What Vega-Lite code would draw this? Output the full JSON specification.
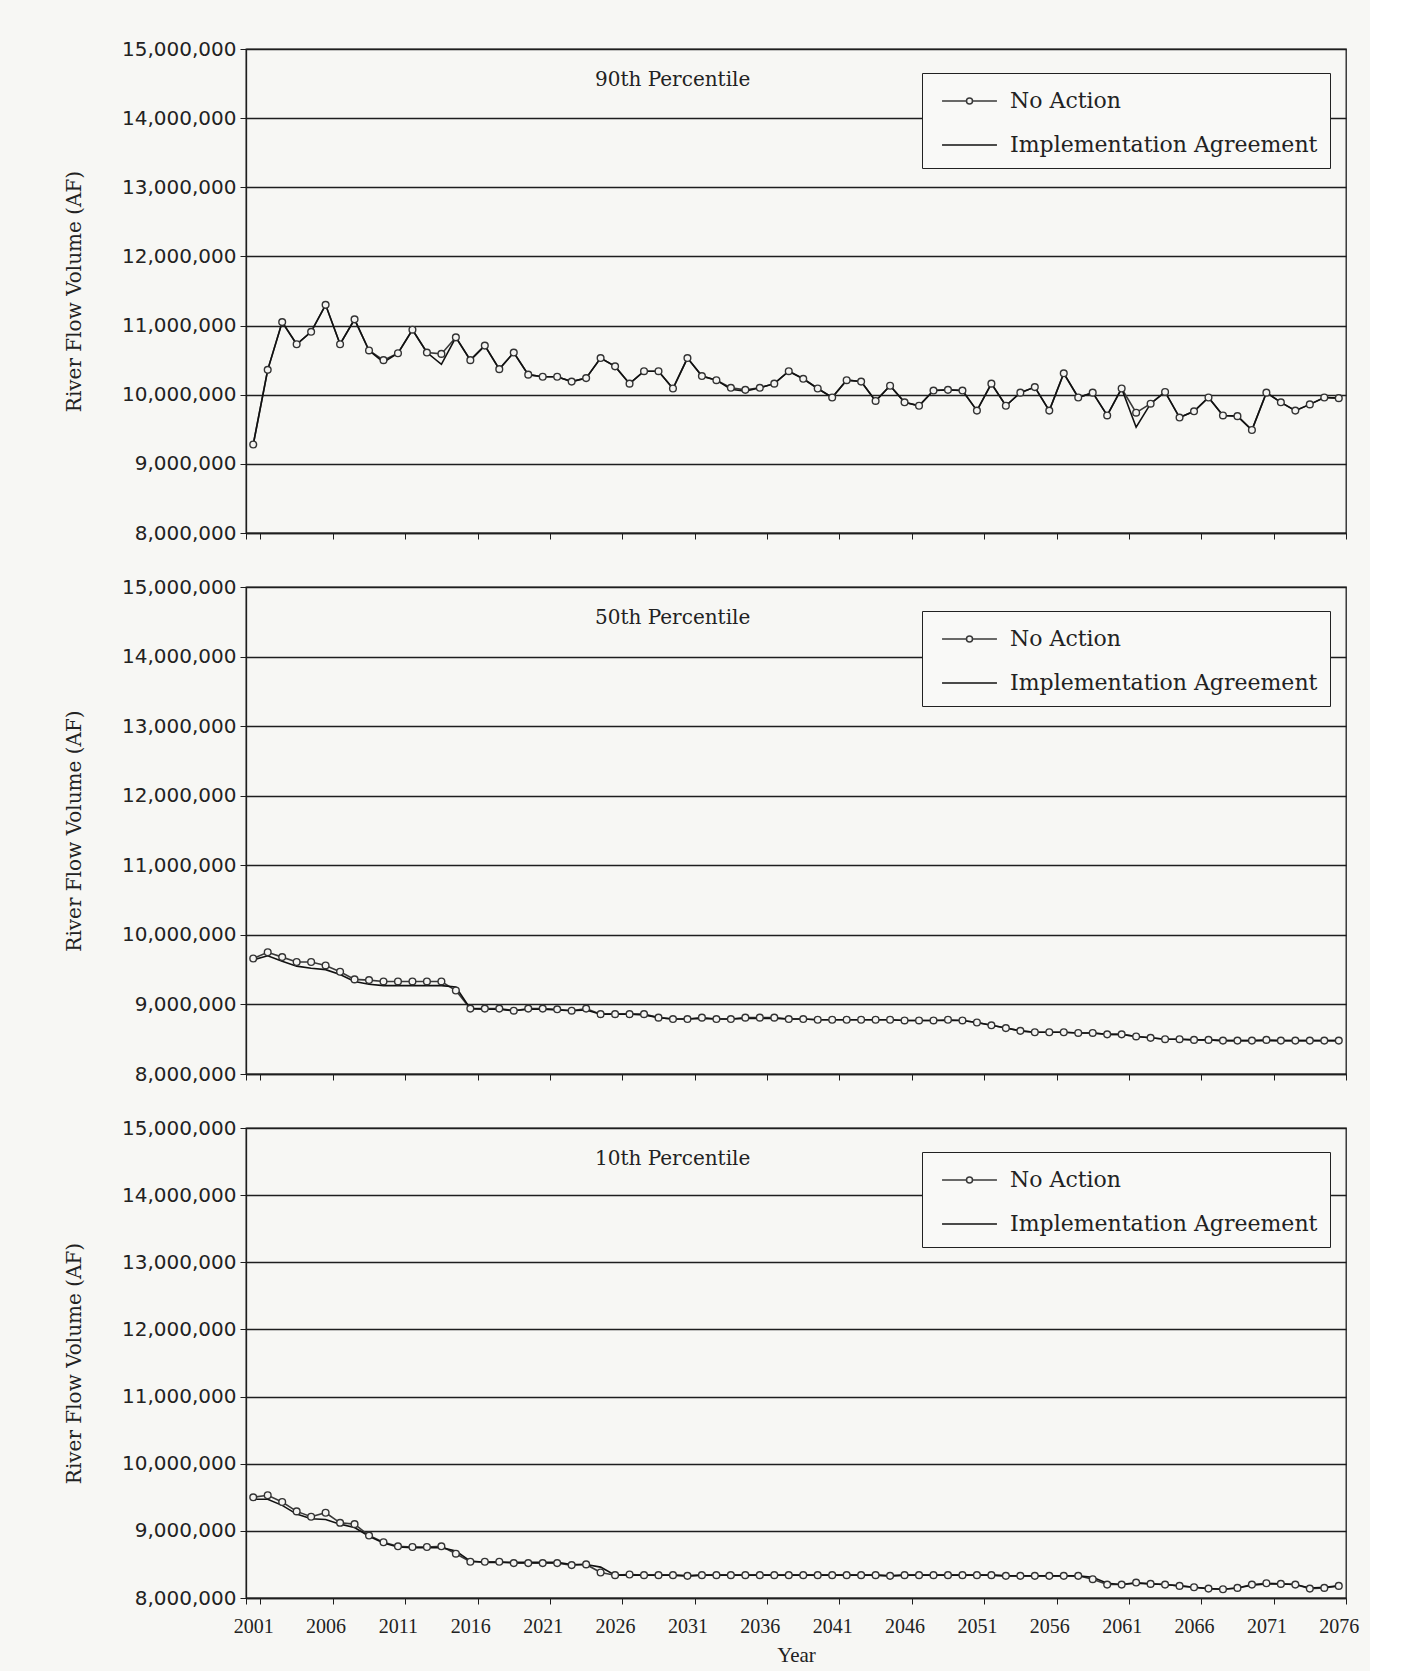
{
"$schema": "https://vega.github.io/schema/vega-lite/v6.json",
"background": "#f7f7f4",
"padding": {"left": 63, "top": 38, "right": 10, "bottom": 5},
"bounds": "flush",
"spacing": 54,
"resolve": {"scale": {"color": "independent"}, "legend": {"color": "independent"}},
"config": {
  "view": {"stroke": "#1e1e1e", "strokeWidth": 1.3},
  "title": {"font": "DejaVu Serif", "fontSize": 20, "fontWeight": "normal", "color": "#222", "anchor": "start", "frame": "group", "dx": 349, "offset": -51, "baseline": "alphabetic"},
  "axisY": {"grid": true, "gridColor": "#1e1e1e", "gridWidth": 1.4, "gridOpacity": 1, "domainColor": "#1e1e1e", "domainWidth": 1.3, "tickColor": "#1e1e1e", "tickSize": 6, "labelFont": "DejaVu Sans", "labelFontSize": 20, "labelColor": "#222", "labelPadding": 4, "labelOverlap": false, "labelFlush": false, "titleFont": "DejaVu Serif", "titleFontSize": 20, "titleFontWeight": "normal", "titleColor": "#222", "titlePadding": 37},
  "axisX": {"domainColor": "#1e1e1e", "domainWidth": 1.3, "tickColor": "#1e1e1e", "tickSize": 6, "tickBand": "extent", "labelFont": "Liberation Serif", "labelFontSize": 20, "labelColor": "#222", "labelPadding": 12, "labelAngle": 0, "labelOverlap": false, "titleFont": "Liberation Serif", "titleFontSize": 21, "titleFontWeight": "normal", "titleColor": "#222", "titlePadding": 8, "grid": false},
  "legend": {"title": null, "orient": "none", "legendX": 676, "legendY": 24, "strokeColor": "#222", "fillColor": "#f9f9f7", "padding": 12, "rowPadding": 17, "labelFont": "DejaVu Serif", "labelFontSize": 22, "labelColor": "#222", "labelOffset": 44, "labelLimit": 0, "symbolSize": 900, "symbolStrokeWidth": 1.5, "symbolStrokeColor": "#222", "symbolFillColor": "#f4f4f2", "symbolType": "M-1,0L1,0"}
},
"datasets": {"flow": [
{"p":"90th","year":2001,"No Action":9280000,"Implementation Agreement":9280000},
{"p":"90th","year":2002,"No Action":10360000,"Implementation Agreement":10360000},
{"p":"90th","year":2003,"No Action":11050000,"Implementation Agreement":11050000},
{"p":"90th","year":2004,"No Action":10730000,"Implementation Agreement":10730000},
{"p":"90th","year":2005,"No Action":10910000,"Implementation Agreement":10910000},
{"p":"90th","year":2006,"No Action":11300000,"Implementation Agreement":11300000},
{"p":"90th","year":2007,"No Action":10730000,"Implementation Agreement":10730000},
{"p":"90th","year":2008,"No Action":11090000,"Implementation Agreement":11090000},
{"p":"90th","year":2009,"No Action":10640000,"Implementation Agreement":10640000},
{"p":"90th","year":2010,"No Action":10500000,"Implementation Agreement":10470000},
{"p":"90th","year":2011,"No Action":10600000,"Implementation Agreement":10600000},
{"p":"90th","year":2012,"No Action":10940000,"Implementation Agreement":10940000},
{"p":"90th","year":2013,"No Action":10610000,"Implementation Agreement":10610000},
{"p":"90th","year":2014,"No Action":10590000,"Implementation Agreement":10440000},
{"p":"90th","year":2015,"No Action":10830000,"Implementation Agreement":10830000},
{"p":"90th","year":2016,"No Action":10500000,"Implementation Agreement":10500000},
{"p":"90th","year":2017,"No Action":10710000,"Implementation Agreement":10710000},
{"p":"90th","year":2018,"No Action":10370000,"Implementation Agreement":10370000},
{"p":"90th","year":2019,"No Action":10610000,"Implementation Agreement":10610000},
{"p":"90th","year":2020,"No Action":10290000,"Implementation Agreement":10290000},
{"p":"90th","year":2021,"No Action":10260000,"Implementation Agreement":10260000},
{"p":"90th","year":2022,"No Action":10260000,"Implementation Agreement":10260000},
{"p":"90th","year":2023,"No Action":10190000,"Implementation Agreement":10190000},
{"p":"90th","year":2024,"No Action":10240000,"Implementation Agreement":10240000},
{"p":"90th","year":2025,"No Action":10530000,"Implementation Agreement":10530000},
{"p":"90th","year":2026,"No Action":10410000,"Implementation Agreement":10410000},
{"p":"90th","year":2027,"No Action":10160000,"Implementation Agreement":10160000},
{"p":"90th","year":2028,"No Action":10340000,"Implementation Agreement":10340000},
{"p":"90th","year":2029,"No Action":10340000,"Implementation Agreement":10340000},
{"p":"90th","year":2030,"No Action":10090000,"Implementation Agreement":10090000},
{"p":"90th","year":2031,"No Action":10530000,"Implementation Agreement":10530000},
{"p":"90th","year":2032,"No Action":10270000,"Implementation Agreement":10270000},
{"p":"90th","year":2033,"No Action":10210000,"Implementation Agreement":10210000},
{"p":"90th","year":2034,"No Action":10100000,"Implementation Agreement":10080000},
{"p":"90th","year":2035,"No Action":10070000,"Implementation Agreement":10050000},
{"p":"90th","year":2036,"No Action":10100000,"Implementation Agreement":10100000},
{"p":"90th","year":2037,"No Action":10160000,"Implementation Agreement":10160000},
{"p":"90th","year":2038,"No Action":10340000,"Implementation Agreement":10340000},
{"p":"90th","year":2039,"No Action":10230000,"Implementation Agreement":10230000},
{"p":"90th","year":2040,"No Action":10090000,"Implementation Agreement":10090000},
{"p":"90th","year":2041,"No Action":9960000,"Implementation Agreement":9960000},
{"p":"90th","year":2042,"No Action":10210000,"Implementation Agreement":10210000},
{"p":"90th","year":2043,"No Action":10190000,"Implementation Agreement":10190000},
{"p":"90th","year":2044,"No Action":9910000,"Implementation Agreement":9910000},
{"p":"90th","year":2045,"No Action":10130000,"Implementation Agreement":10130000},
{"p":"90th","year":2046,"No Action":9890000,"Implementation Agreement":9890000},
{"p":"90th","year":2047,"No Action":9840000,"Implementation Agreement":9840000},
{"p":"90th","year":2048,"No Action":10060000,"Implementation Agreement":10060000},
{"p":"90th","year":2049,"No Action":10070000,"Implementation Agreement":10070000},
{"p":"90th","year":2050,"No Action":10060000,"Implementation Agreement":10060000},
{"p":"90th","year":2051,"No Action":9770000,"Implementation Agreement":9770000},
{"p":"90th","year":2052,"No Action":10160000,"Implementation Agreement":10160000},
{"p":"90th","year":2053,"No Action":9840000,"Implementation Agreement":9840000},
{"p":"90th","year":2054,"No Action":10030000,"Implementation Agreement":10030000},
{"p":"90th","year":2055,"No Action":10110000,"Implementation Agreement":10110000},
{"p":"90th","year":2056,"No Action":9770000,"Implementation Agreement":9770000},
{"p":"90th","year":2057,"No Action":10310000,"Implementation Agreement":10310000},
{"p":"90th","year":2058,"No Action":9960000,"Implementation Agreement":9960000},
{"p":"90th","year":2059,"No Action":10030000,"Implementation Agreement":10030000},
{"p":"90th","year":2060,"No Action":9700000,"Implementation Agreement":9700000},
{"p":"90th","year":2061,"No Action":10090000,"Implementation Agreement":10090000},
{"p":"90th","year":2062,"No Action":9740000,"Implementation Agreement":9530000},
{"p":"90th","year":2063,"No Action":9870000,"Implementation Agreement":9870000},
{"p":"90th","year":2064,"No Action":10040000,"Implementation Agreement":10040000},
{"p":"90th","year":2065,"No Action":9670000,"Implementation Agreement":9670000},
{"p":"90th","year":2066,"No Action":9760000,"Implementation Agreement":9760000},
{"p":"90th","year":2067,"No Action":9960000,"Implementation Agreement":9960000},
{"p":"90th","year":2068,"No Action":9700000,"Implementation Agreement":9700000},
{"p":"90th","year":2069,"No Action":9690000,"Implementation Agreement":9690000},
{"p":"90th","year":2070,"No Action":9490000,"Implementation Agreement":9490000},
{"p":"90th","year":2071,"No Action":10030000,"Implementation Agreement":10030000},
{"p":"90th","year":2072,"No Action":9890000,"Implementation Agreement":9890000},
{"p":"90th","year":2073,"No Action":9770000,"Implementation Agreement":9770000},
{"p":"90th","year":2074,"No Action":9860000,"Implementation Agreement":9860000},
{"p":"90th","year":2075,"No Action":9960000,"Implementation Agreement":9960000},
{"p":"90th","year":2076,"No Action":9950000,"Implementation Agreement":9950000},
{"p":"50th","year":2001,"No Action":9660000,"Implementation Agreement":9640000},
{"p":"50th","year":2002,"No Action":9750000,"Implementation Agreement":9700000},
{"p":"50th","year":2003,"No Action":9680000,"Implementation Agreement":9620000},
{"p":"50th","year":2004,"No Action":9610000,"Implementation Agreement":9550000},
{"p":"50th","year":2005,"No Action":9610000,"Implementation Agreement":9520000},
{"p":"50th","year":2006,"No Action":9560000,"Implementation Agreement":9500000},
{"p":"50th","year":2007,"No Action":9470000,"Implementation Agreement":9430000},
{"p":"50th","year":2008,"No Action":9360000,"Implementation Agreement":9330000},
{"p":"50th","year":2009,"No Action":9350000,"Implementation Agreement":9290000},
{"p":"50th","year":2010,"No Action":9330000,"Implementation Agreement":9270000},
{"p":"50th","year":2011,"No Action":9330000,"Implementation Agreement":9270000},
{"p":"50th","year":2012,"No Action":9330000,"Implementation Agreement":9270000},
{"p":"50th","year":2013,"No Action":9330000,"Implementation Agreement":9270000},
{"p":"50th","year":2014,"No Action":9330000,"Implementation Agreement":9270000},
{"p":"50th","year":2015,"No Action":9200000,"Implementation Agreement":9250000},
{"p":"50th","year":2016,"No Action":8940000,"Implementation Agreement":8940000},
{"p":"50th","year":2017,"No Action":8940000,"Implementation Agreement":8930000},
{"p":"50th","year":2018,"No Action":8940000,"Implementation Agreement":8930000},
{"p":"50th","year":2019,"No Action":8910000,"Implementation Agreement":8910000},
{"p":"50th","year":2020,"No Action":8940000,"Implementation Agreement":8930000},
{"p":"50th","year":2021,"No Action":8940000,"Implementation Agreement":8930000},
{"p":"50th","year":2022,"No Action":8930000,"Implementation Agreement":8920000},
{"p":"50th","year":2023,"No Action":8910000,"Implementation Agreement":8910000},
{"p":"50th","year":2024,"No Action":8940000,"Implementation Agreement":8920000},
{"p":"50th","year":2025,"No Action":8860000,"Implementation Agreement":8860000},
{"p":"50th","year":2026,"No Action":8860000,"Implementation Agreement":8860000},
{"p":"50th","year":2027,"No Action":8860000,"Implementation Agreement":8860000},
{"p":"50th","year":2028,"No Action":8860000,"Implementation Agreement":8850000},
{"p":"50th","year":2029,"No Action":8810000,"Implementation Agreement":8810000},
{"p":"50th","year":2030,"No Action":8790000,"Implementation Agreement":8790000},
{"p":"50th","year":2031,"No Action":8790000,"Implementation Agreement":8790000},
{"p":"50th","year":2032,"No Action":8810000,"Implementation Agreement":8800000},
{"p":"50th","year":2033,"No Action":8790000,"Implementation Agreement":8790000},
{"p":"50th","year":2034,"No Action":8790000,"Implementation Agreement":8790000},
{"p":"50th","year":2035,"No Action":8810000,"Implementation Agreement":8800000},
{"p":"50th","year":2036,"No Action":8810000,"Implementation Agreement":8800000},
{"p":"50th","year":2037,"No Action":8810000,"Implementation Agreement":8800000},
{"p":"50th","year":2038,"No Action":8790000,"Implementation Agreement":8790000},
{"p":"50th","year":2039,"No Action":8790000,"Implementation Agreement":8790000},
{"p":"50th","year":2040,"No Action":8780000,"Implementation Agreement":8780000},
{"p":"50th","year":2041,"No Action":8780000,"Implementation Agreement":8780000},
{"p":"50th","year":2042,"No Action":8780000,"Implementation Agreement":8780000},
{"p":"50th","year":2043,"No Action":8780000,"Implementation Agreement":8780000},
{"p":"50th","year":2044,"No Action":8780000,"Implementation Agreement":8780000},
{"p":"50th","year":2045,"No Action":8780000,"Implementation Agreement":8780000},
{"p":"50th","year":2046,"No Action":8770000,"Implementation Agreement":8770000},
{"p":"50th","year":2047,"No Action":8770000,"Implementation Agreement":8770000},
{"p":"50th","year":2048,"No Action":8770000,"Implementation Agreement":8770000},
{"p":"50th","year":2049,"No Action":8780000,"Implementation Agreement":8770000},
{"p":"50th","year":2050,"No Action":8770000,"Implementation Agreement":8770000},
{"p":"50th","year":2051,"No Action":8740000,"Implementation Agreement":8740000},
{"p":"50th","year":2052,"No Action":8700000,"Implementation Agreement":8700000},
{"p":"50th","year":2053,"No Action":8660000,"Implementation Agreement":8660000},
{"p":"50th","year":2054,"No Action":8620000,"Implementation Agreement":8620000},
{"p":"50th","year":2055,"No Action":8600000,"Implementation Agreement":8600000},
{"p":"50th","year":2056,"No Action":8600000,"Implementation Agreement":8600000},
{"p":"50th","year":2057,"No Action":8600000,"Implementation Agreement":8600000},
{"p":"50th","year":2058,"No Action":8590000,"Implementation Agreement":8590000},
{"p":"50th","year":2059,"No Action":8590000,"Implementation Agreement":8590000},
{"p":"50th","year":2060,"No Action":8570000,"Implementation Agreement":8570000},
{"p":"50th","year":2061,"No Action":8570000,"Implementation Agreement":8570000},
{"p":"50th","year":2062,"No Action":8540000,"Implementation Agreement":8540000},
{"p":"50th","year":2063,"No Action":8520000,"Implementation Agreement":8520000},
{"p":"50th","year":2064,"No Action":8500000,"Implementation Agreement":8500000},
{"p":"50th","year":2065,"No Action":8500000,"Implementation Agreement":8500000},
{"p":"50th","year":2066,"No Action":8490000,"Implementation Agreement":8490000},
{"p":"50th","year":2067,"No Action":8490000,"Implementation Agreement":8490000},
{"p":"50th","year":2068,"No Action":8480000,"Implementation Agreement":8480000},
{"p":"50th","year":2069,"No Action":8480000,"Implementation Agreement":8480000},
{"p":"50th","year":2070,"No Action":8480000,"Implementation Agreement":8480000},
{"p":"50th","year":2071,"No Action":8490000,"Implementation Agreement":8480000},
{"p":"50th","year":2072,"No Action":8480000,"Implementation Agreement":8480000},
{"p":"50th","year":2073,"No Action":8480000,"Implementation Agreement":8480000},
{"p":"50th","year":2074,"No Action":8480000,"Implementation Agreement":8480000},
{"p":"50th","year":2075,"No Action":8480000,"Implementation Agreement":8480000},
{"p":"50th","year":2076,"No Action":8480000,"Implementation Agreement":8480000},
{"p":"10th","year":2001,"No Action":9500000,"Implementation Agreement":9470000},
{"p":"10th","year":2002,"No Action":9530000,"Implementation Agreement":9470000},
{"p":"10th","year":2003,"No Action":9430000,"Implementation Agreement":9380000},
{"p":"10th","year":2004,"No Action":9290000,"Implementation Agreement":9250000},
{"p":"10th","year":2005,"No Action":9210000,"Implementation Agreement":9180000},
{"p":"10th","year":2006,"No Action":9270000,"Implementation Agreement":9170000},
{"p":"10th","year":2007,"No Action":9120000,"Implementation Agreement":9100000},
{"p":"10th","year":2008,"No Action":9100000,"Implementation Agreement":9050000},
{"p":"10th","year":2009,"No Action":8930000,"Implementation Agreement":8920000},
{"p":"10th","year":2010,"No Action":8830000,"Implementation Agreement":8820000},
{"p":"10th","year":2011,"No Action":8770000,"Implementation Agreement":8760000},
{"p":"10th","year":2012,"No Action":8760000,"Implementation Agreement":8750000},
{"p":"10th","year":2013,"No Action":8760000,"Implementation Agreement":8750000},
{"p":"10th","year":2014,"No Action":8770000,"Implementation Agreement":8750000},
{"p":"10th","year":2015,"No Action":8660000,"Implementation Agreement":8700000},
{"p":"10th","year":2016,"No Action":8540000,"Implementation Agreement":8550000},
{"p":"10th","year":2017,"No Action":8540000,"Implementation Agreement":8530000},
{"p":"10th","year":2018,"No Action":8540000,"Implementation Agreement":8530000},
{"p":"10th","year":2019,"No Action":8520000,"Implementation Agreement":8530000},
{"p":"10th","year":2020,"No Action":8520000,"Implementation Agreement":8530000},
{"p":"10th","year":2021,"No Action":8520000,"Implementation Agreement":8530000},
{"p":"10th","year":2022,"No Action":8520000,"Implementation Agreement":8530000},
{"p":"10th","year":2023,"No Action":8490000,"Implementation Agreement":8500000},
{"p":"10th","year":2024,"No Action":8500000,"Implementation Agreement":8500000},
{"p":"10th","year":2025,"No Action":8380000,"Implementation Agreement":8460000},
{"p":"10th","year":2026,"No Action":8340000,"Implementation Agreement":8340000},
{"p":"10th","year":2027,"No Action":8350000,"Implementation Agreement":8340000},
{"p":"10th","year":2028,"No Action":8340000,"Implementation Agreement":8340000},
{"p":"10th","year":2029,"No Action":8340000,"Implementation Agreement":8340000},
{"p":"10th","year":2030,"No Action":8340000,"Implementation Agreement":8340000},
{"p":"10th","year":2031,"No Action":8330000,"Implementation Agreement":8330000},
{"p":"10th","year":2032,"No Action":8340000,"Implementation Agreement":8340000},
{"p":"10th","year":2033,"No Action":8340000,"Implementation Agreement":8340000},
{"p":"10th","year":2034,"No Action":8340000,"Implementation Agreement":8340000},
{"p":"10th","year":2035,"No Action":8340000,"Implementation Agreement":8340000},
{"p":"10th","year":2036,"No Action":8340000,"Implementation Agreement":8340000},
{"p":"10th","year":2037,"No Action":8340000,"Implementation Agreement":8340000},
{"p":"10th","year":2038,"No Action":8340000,"Implementation Agreement":8340000},
{"p":"10th","year":2039,"No Action":8340000,"Implementation Agreement":8340000},
{"p":"10th","year":2040,"No Action":8340000,"Implementation Agreement":8340000},
{"p":"10th","year":2041,"No Action":8340000,"Implementation Agreement":8340000},
{"p":"10th","year":2042,"No Action":8340000,"Implementation Agreement":8340000},
{"p":"10th","year":2043,"No Action":8340000,"Implementation Agreement":8340000},
{"p":"10th","year":2044,"No Action":8340000,"Implementation Agreement":8340000},
{"p":"10th","year":2045,"No Action":8330000,"Implementation Agreement":8330000},
{"p":"10th","year":2046,"No Action":8340000,"Implementation Agreement":8340000},
{"p":"10th","year":2047,"No Action":8340000,"Implementation Agreement":8340000},
{"p":"10th","year":2048,"No Action":8340000,"Implementation Agreement":8340000},
{"p":"10th","year":2049,"No Action":8340000,"Implementation Agreement":8340000},
{"p":"10th","year":2050,"No Action":8340000,"Implementation Agreement":8340000},
{"p":"10th","year":2051,"No Action":8340000,"Implementation Agreement":8340000},
{"p":"10th","year":2052,"No Action":8340000,"Implementation Agreement":8340000},
{"p":"10th","year":2053,"No Action":8330000,"Implementation Agreement":8330000},
{"p":"10th","year":2054,"No Action":8330000,"Implementation Agreement":8330000},
{"p":"10th","year":2055,"No Action":8330000,"Implementation Agreement":8330000},
{"p":"10th","year":2056,"No Action":8330000,"Implementation Agreement":8330000},
{"p":"10th","year":2057,"No Action":8330000,"Implementation Agreement":8330000},
{"p":"10th","year":2058,"No Action":8330000,"Implementation Agreement":8330000},
{"p":"10th","year":2059,"No Action":8280000,"Implementation Agreement":8310000},
{"p":"10th","year":2060,"No Action":8200000,"Implementation Agreement":8220000},
{"p":"10th","year":2061,"No Action":8200000,"Implementation Agreement":8200000},
{"p":"10th","year":2062,"No Action":8230000,"Implementation Agreement":8220000},
{"p":"10th","year":2063,"No Action":8210000,"Implementation Agreement":8210000},
{"p":"10th","year":2064,"No Action":8200000,"Implementation Agreement":8200000},
{"p":"10th","year":2065,"No Action":8180000,"Implementation Agreement":8180000},
{"p":"10th","year":2066,"No Action":8160000,"Implementation Agreement":8160000},
{"p":"10th","year":2067,"No Action":8140000,"Implementation Agreement":8140000},
{"p":"10th","year":2068,"No Action":8130000,"Implementation Agreement":8130000},
{"p":"10th","year":2069,"No Action":8150000,"Implementation Agreement":8150000},
{"p":"10th","year":2070,"No Action":8200000,"Implementation Agreement":8190000},
{"p":"10th","year":2071,"No Action":8220000,"Implementation Agreement":8210000},
{"p":"10th","year":2072,"No Action":8210000,"Implementation Agreement":8210000},
{"p":"10th","year":2073,"No Action":8200000,"Implementation Agreement":8200000},
{"p":"10th","year":2074,"No Action":8140000,"Implementation Agreement":8150000},
{"p":"10th","year":2075,"No Action":8150000,"Implementation Agreement":8160000},
{"p":"10th","year":2076,"No Action":8180000,"Implementation Agreement":8180000}
]},
"vconcat": [
{
  "width": 1100, "height": 484,
  "title": {"text": "90th Percentile"},
  "data": {"name": "flow"},
  "transform": [{"filter": "datum.p == '90th'"}, {"fold": ["No Action", "Implementation Agreement"], "as": ["series", "value"]}],
  "encoding": {
    "x": {"field": "year", "type": "ordinal", "scale": {"type": "band", "paddingInner": 0, "paddingOuter": 0}, "bandPosition": 0.5, "axis": {"labels": false, "title": null, "values": [2001,2006,2011,2016,2021,2026,2031,2036,2041,2046,2051,2056,2061,2066,2071,2076]}},
    "y": {"field": "value", "type": "quantitative", "scale": {"domain": [8000000, 15000000], "nice": false, "zero": false}, "axis": {"title": "River Flow Volume (AF)", "labelExpr": "format(datum.value, ',')", "values": [8000000,9000000,10000000,11000000,12000000,13000000,14000000,15000000]}}
  },
  "layer": [
    {"mark": {"type": "line", "strokeWidth": 1.6}, "encoding": {"color": {"field": "series", "type": "nominal", "scale": {"domain": ["No Action", "Implementation Agreement"], "range": ["#3a3a3a", "#111111"]}, "legend": {"encode": {"symbols": {"update": {"shape": {"signal": "datum.value === 'No Action' ? 'M-0.53,0L1.1,0M1.5,0L3.13,0M1.1,0A0.2,0.2 0 1 1 1.5,0A0.2,0.2 0 1 1 1.1,0Z' : 'M-0.53,0L3.13,0'"}, "stroke": {"value": "#222"}, "fill": {"value": "#f4f4f2"}, "strokeWidth": {"value": 1.5}}}}}}}},
    {"transform": [{"filter": "datum.series == 'No Action'"}], "mark": {"type": "point", "shape": "circle", "filled": true, "fill": "#f4f4f2", "stroke": "#333", "strokeWidth": 1.4, "size": 45, "opacity": 1}}
  ]
},
{
  "width": 1100, "height": 487,
  "title": {"text": "50th Percentile"},
  "data": {"name": "flow"},
  "transform": [{"filter": "datum.p == '50th'"}, {"fold": ["No Action", "Implementation Agreement"], "as": ["series", "value"]}],
  "encoding": {
    "x": {"field": "year", "type": "ordinal", "scale": {"type": "band", "paddingInner": 0, "paddingOuter": 0}, "bandPosition": 0.5, "axis": {"labels": false, "title": null, "values": [2001,2006,2011,2016,2021,2026,2031,2036,2041,2046,2051,2056,2061,2066,2071,2076]}},
    "y": {"field": "value", "type": "quantitative", "scale": {"domain": [8000000, 15000000], "nice": false, "zero": false}, "axis": {"title": "River Flow Volume (AF)", "labelExpr": "format(datum.value, ',')", "values": [8000000,9000000,10000000,11000000,12000000,13000000,14000000,15000000]}}
  },
  "layer": [
    {"mark": {"type": "line", "strokeWidth": 1.6}, "encoding": {"color": {"field": "series", "type": "nominal", "scale": {"domain": ["No Action", "Implementation Agreement"], "range": ["#3a3a3a", "#111111"]}, "legend": {"encode": {"symbols": {"update": {"shape": {"signal": "datum.value === 'No Action' ? 'M-0.53,0L1.1,0M1.5,0L3.13,0M1.1,0A0.2,0.2 0 1 1 1.5,0A0.2,0.2 0 1 1 1.1,0Z' : 'M-0.53,0L3.13,0'"}, "stroke": {"value": "#222"}, "fill": {"value": "#f4f4f2"}, "strokeWidth": {"value": 1.5}}}}}}}},
    {"transform": [{"filter": "datum.series == 'No Action'"}], "mark": {"type": "point", "shape": "circle", "filled": true, "fill": "#f4f4f2", "stroke": "#333", "strokeWidth": 1.4, "size": 45, "opacity": 1}}
  ]
},
{
  "width": 1100, "height": 470,
  "title": {"text": "10th Percentile"},
  "data": {"name": "flow"},
  "transform": [{"filter": "datum.p == '10th'"}, {"fold": ["No Action", "Implementation Agreement"], "as": ["series", "value"]}],
  "encoding": {
    "x": {"field": "year", "type": "ordinal", "scale": {"type": "band", "paddingInner": 0, "paddingOuter": 0}, "bandPosition": 0.5, "axis": {"title": "Year", "values": [2001,2006,2011,2016,2021,2026,2031,2036,2041,2046,2051,2056,2061,2066,2071,2076]}},
    "y": {"field": "value", "type": "quantitative", "scale": {"domain": [8000000, 15000000], "nice": false, "zero": false}, "axis": {"title": "River Flow Volume (AF)", "labelExpr": "format(datum.value, ',')", "values": [8000000,9000000,10000000,11000000,12000000,13000000,14000000,15000000]}}
  },
  "layer": [
    {"mark": {"type": "line", "strokeWidth": 1.6}, "encoding": {"color": {"field": "series", "type": "nominal", "scale": {"domain": ["No Action", "Implementation Agreement"], "range": ["#3a3a3a", "#111111"]}, "legend": {"encode": {"symbols": {"update": {"shape": {"signal": "datum.value === 'No Action' ? 'M-0.53,0L1.1,0M1.5,0L3.13,0M1.1,0A0.2,0.2 0 1 1 1.5,0A0.2,0.2 0 1 1 1.1,0Z' : 'M-0.53,0L3.13,0'"}, "stroke": {"value": "#222"}, "fill": {"value": "#f4f4f2"}, "strokeWidth": {"value": 1.5}}}}}}}},
    {"transform": [{"filter": "datum.series == 'No Action'"}], "mark": {"type": "point", "shape": "circle", "filled": true, "fill": "#f4f4f2", "stroke": "#333", "strokeWidth": 1.4, "size": 45, "opacity": 1}}
  ]
}
]
}
